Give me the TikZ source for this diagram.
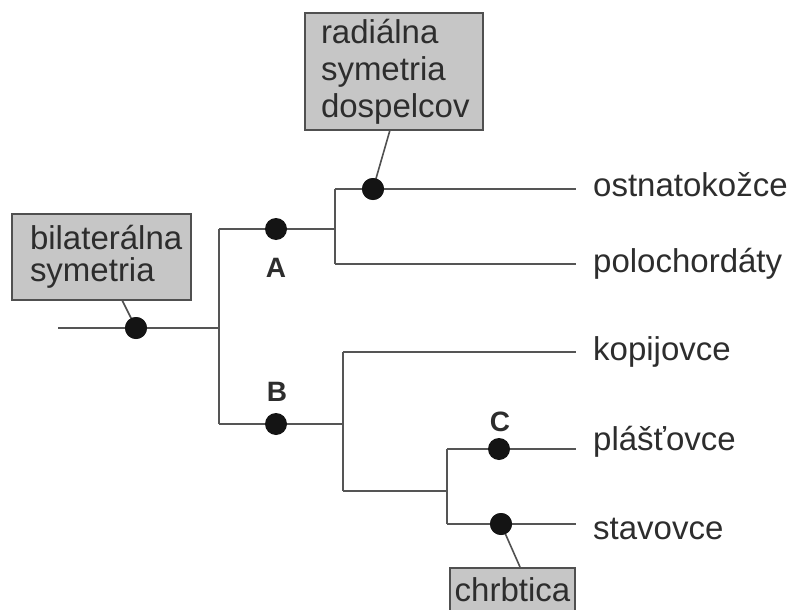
\documentclass[tikz,border=0pt]{standalone}
\usepackage{fontspec}
\setmainfont{Liberation Sans}
\definecolor{linegray}{RGB}{85,85,85}
\definecolor{dotblack}{RGB}{20,20,20}
\definecolor{textgray}{RGB}{45,45,45}
\definecolor{boxgray}{RGB}{198,198,198}
\definecolor{boxborder}{RGB}{80,80,80}
\begin{document}
\begin{tikzpicture}[x=1pt,y=-1pt,
  ln/.style={draw=linegray, line width=2.2pt},
  lead/.style={draw=boxborder, line width=1.6pt},
  dot/.style={circle, fill=dotblack, inner sep=0pt, minimum size=22pt},
  taxon/.style={font=\fontsize{33}{38}\selectfont, text=textgray, anchor=base west, inner sep=0pt},
  lett/.style={font=\fontsize{28}{32}\selectfont\bfseries, text=textgray, inner sep=0pt},
  box/.style={rectangle, draw=boxborder, line width=1.5pt, fill=boxgray, align=left, text=textgray, inner sep=0pt}]
\clip (0,0) rectangle (790,610);
% junction coordinates
\coordinate (r0) at (58,328);
\coordinate (r1) at (219,328);
\coordinate (a0) at (219,229);
\coordinate (b0) at (219,424);
\coordinate (a1) at (335,229);
\coordinate (o0) at (335,189);
\coordinate (p0) at (335,264);
\coordinate (oe) at (576,189);
\coordinate (pe) at (576,264);
\coordinate (b1) at (343,424);
\coordinate (k0) at (343,352);
\coordinate (c0) at (343,491);
\coordinate (ke) at (576,352);
\coordinate (c1) at (447,491);
\coordinate (pl0) at (447,449);
\coordinate (st0) at (447,524);
\coordinate (ple) at (576,449);
\coordinate (ste) at (576,524);
% tree lines
\draw[ln] (r0) -- (r1);
\draw[ln] (a0) -- (b0);
\draw[ln] (a0) -- (a1);
\draw[ln] (o0) -- (p0);
\draw[ln] (o0) -- (oe);
\draw[ln] (p0) -- (pe);
\draw[ln] (b0) -- (b1);
\draw[ln] (k0) -- (c0);
\draw[ln] (k0) -- (ke);
\draw[ln] (c0) -- (c1);
\draw[ln] (pl0) -- (st0);
\draw[ln] (pl0) -- (ple);
\draw[ln] (st0) -- (ste);
% taxa
\node[taxon] (ost) at (593,196) {ostnatokožce};
\node[taxon] (pol) at (593,272) {polochordáty};
\node[taxon] (kop) at (593,360) {kopijovce};
\node[taxon] (pla) at (593,450) {plášťovce};
\node[taxon] (sta) at (593,539) {stavovce};
% boxes
\node[box, minimum width=179, minimum height=86, text width=143,
      font=\fontsize{33}{32}\selectfont] (bilat) at (101.5,257) {bilaterálna\\symetria};
\node[box, minimum width=178, minimum height=117, text width=146,
      font=\fontsize{33}{37}\selectfont] (radial) at (394,71.5) {radiálna\\symetria\\dospelcov};
\node[box, minimum width=125, inner ysep=10, text depth=12, anchor=north,
      font=\fontsize{33}{37}\selectfont] (chrb) at (512.5,567) {chrbtica};
\coordinate (bilatfoot) at (122,300);
\coordinate (radialfoot) at (390,130);
\coordinate (chrbfoot) at (520,567);
% dots
\node[dot] (dR) at (136,328) {};
\node[dot] (dA) at (276,229) {};
\node[dot] (dB) at (276,424) {};
\node[dot] (dRad) at (373,189) {};
\node[dot] (dC) at (499,449) {};
\node[dot] (dS) at (501,524) {};
% leader lines
\draw[lead] (bilatfoot) -- (dR.center);
\draw[lead] (radialfoot) -- (dRad.center);
\draw[lead] (chrbfoot) -- (dS.center);
\node[dot] at (dR) {};
\node[dot] at (dRad) {};
\node[dot] at (dS) {};
% letters
\node[lett] (lA) at (276,268) {A};
\node[lett] (lB) at (277,392) {B};
\node[lett] (lC) at (500,422) {C};
\end{tikzpicture}
\end{document}
